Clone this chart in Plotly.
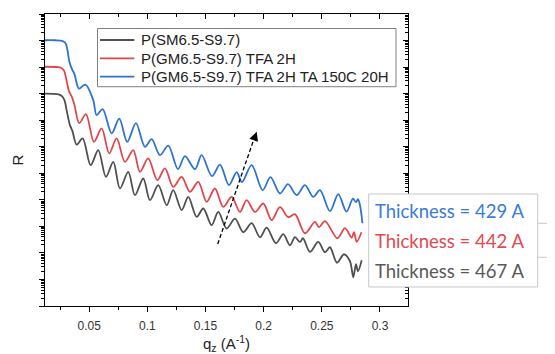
import numpy as np
import plotly.graph_objects as go

# ---------------- data ----------------
series_names = ["P(SM6.5-S9.7)", "P(GM6.5-S9.7) TFA 2H", "P(GM6.5-S9.7) TFA 2H TA 150C 20H"]
series_colors = ["#505050", "#e0474c", "#2f72d0"]

# P(SM6.5-S9.7)  (dark grey)
q_sm = [0.01152, 0.02373, 0.02657, 0.02872, 0.03087, 0.03345, 0.03560, 0.03921, 0.04437, 0.05125,
        0.05778, 0.06440, 0.07068, 0.07644, 0.08358, 0.08934, 0.09648, 0.10224, 0.10937, 0.11660,
        0.12227, 0.12949, 0.13517, 0.14239, 0.14807, 0.15529, 0.16096, 0.16819, 0.17532, 0.18246,
        0.18968, 0.19682, 0.20258, 0.21058, 0.21686, 0.22262, 0.22691, 0.23121, 0.23379, 0.23981,
        0.24695, 0.25271, 0.25701, 0.26303, 0.26905, 0.27421, 0.27705, 0.27937, 0.28109, 0.28427]
log10R_sm = [8.001, 7.971, 7.907, 7.756, 7.315, 6.814, 6.588, 6.078, 6.312, 5.305,
             5.871, 4.864, 5.430, 4.427, 5.053, 4.174, 4.804, 3.986, 4.551, 3.797,
             4.363, 3.609, 4.110, 3.356, 3.673, 3.043, 3.545, 2.919, 3.288, 2.779,
             3.118, 2.591, 2.949, 2.364, 2.704, 2.289, 2.591, 2.413, 2.553, 2.036,
             2.413, 2.025, 2.213, 1.629, 1.950, 1.686, 1.082, 1.572, 1.308, 1.723]

# P(GM6.5-S9.7) TFA 2H  (red)
q_tfa = [0.01152, 0.02313, 0.02571, 0.02829, 0.03044, 0.03259, 0.03517, 0.03732, 0.04144, 0.04721,
         0.05408, 0.06071, 0.06724, 0.07360, 0.08074, 0.08788, 0.09364, 0.10077, 0.10851, 0.11513,
         0.12227, 0.12949, 0.13663, 0.14377, 0.15099, 0.15813, 0.16526, 0.17248, 0.17962, 0.18539,
         0.19252, 0.19966, 0.20688, 0.21402, 0.22115, 0.22691, 0.23551, 0.24411, 0.24755, 0.25271,
         0.26346, 0.26991, 0.27567, 0.27765, 0.27997, 0.28410]
log10R_tfa = [9.012, 9.001, 8.974, 8.869, 8.511, 8.096, 7.869, 7.568, 6.889, 7.228,
              6.184, 6.689, 5.747, 6.312, 5.430, 5.871, 5.053, 5.558, 4.740, 5.181,
              4.487, 4.864, 4.299, 4.676, 3.922, 4.427, 3.733, 4.110, 3.545, 3.986,
              3.545, 3.861, 3.232, 3.722, 3.345, 3.458, 2.741, 3.167, 2.968, 3.194,
              2.553, 2.930, 2.572, 2.779, 2.421, 2.779]

# P(GM6.5-S9.7) TFA 2H TA 150C 20H  (blue)
q_ta = [0.01152, 0.02055, 0.02657, 0.02958, 0.03130, 0.03302, 0.03517, 0.03732, 0.04119, 0.04678,
        0.05348, 0.05641, 0.06157, 0.06930, 0.07584, 0.08272, 0.09020, 0.09794, 0.10370, 0.11084,
        0.11797, 0.12631, 0.13233, 0.14093, 0.14669, 0.15555, 0.16243, 0.17016, 0.17678, 0.18134,
        0.18968, 0.19914, 0.20585, 0.21402, 0.22089, 0.22838, 0.23551, 0.24265, 0.24841, 0.25701,
        0.26415, 0.27120, 0.27679, 0.27937, 0.28109, 0.28281, 0.28495]
log10R_ta = [10.011, 10.011, 9.989, 9.906, 9.642, 9.189, 8.925, 8.737, 8.190, 8.341,
             7.756, 7.191, 7.417, 6.501, 7.059, 6.184, 6.889, 5.995, 6.286, 5.683,
             6.041, 5.155, 5.645, 5.155, 5.683, 4.891, 5.324, 4.551, 5.041, 4.664,
             5.305, 4.363, 4.853, 4.238, 4.589, 4.174, 4.551, 4.110, 4.363, 3.571,
             4.212, 3.552, 4.042, 3.910, 4.023, 3.797, 3.118]

thickness_labels = ["Thickness = 429 A", "Thickness = 442 A", "Thickness = 467 A"]
thickness_colors = ["#3a7bd8", "#e5484d", "#595959"]

x_tickvals = [0.05, 0.1, 0.15, 0.2, 0.25, 0.3]
x_ticktext = ["0.05", "0.1", "0.15", "0.2", "0.25", "0.3"]
x_range = [0.0120, 0.3241]
y_decades = list(range(0, 12))          # 1e0 ... 1e11
y_range_log = [0, 11]

# ---------------- figure ----------------
fig = go.Figure()
for q, lr, name, col in [(q_sm, log10R_sm, series_names[0], series_colors[0]),
                         (q_tfa, log10R_tfa, series_names[1], series_colors[1]),
                         (q_ta, log10R_ta, series_names[2], series_colors[2])]:
    fig.add_trace(go.Scatter(x=q, y=10 ** np.array(lr), mode="lines", name=name,
                             line=dict(color=col, width=1.8, shape="spline", smoothing=0.9),
                             hoverinfo="skip", showlegend=False))

# empty trace to hold the mirrored (top / right) axes
fig.add_trace(go.Scatter(x=[], y=[], xaxis="x2", yaxis="y2", showlegend=False, hoverinfo="skip"))

y_major = [10.0 ** d for d in y_decades]
y_minor = [k * 10.0 ** d for d in y_decades[:-1] for k in range(2, 10)]
axis_font = dict(family="Arial, Liberation Sans, sans-serif", size=12, color="#333333")
title_font = dict(family="Arial, Liberation Sans, sans-serif", size=15, color="#222222")

# The page body has an 8px default margin, so the figure is 8px smaller than the window
fig.update_layout(
    width=547, height=346,
    margin=dict(l=37, r=147, t=6, b=48, autoexpand=False),
    paper_bgcolor="white", plot_bgcolor="white",
    showlegend=False,
    xaxis=dict(range=x_range, showgrid=False, zeroline=False, automargin=False,
               showline=True, linecolor="black", linewidth=1.3,
               ticks="outside", ticklen=5, tickwidth=1.2, tickcolor="black",
               tickmode="array", tickvals=x_tickvals, ticktext=x_ticktext,
               tickfont=axis_font, ticklabelstandoff=3,
               minor=dict(ticks="outside", ticklen=3, tickwidth=1.2, tickcolor="black",
                          tickmode="linear", tick0=0.025, dtick=0.05),
               title=dict(text="q<sub>z</sub> (A<sup>-1</sup>)", standoff=10, font=title_font)),
    yaxis=dict(type="log", range=y_range_log, showgrid=False, zeroline=False, automargin=False,
               showline=True, linecolor="black", linewidth=1.3,
               ticks="outside", ticklen=5, tickwidth=1.2, tickcolor="black",
               tickmode="array", tickvals=y_major, showticklabels=False,
               minor=dict(ticks="outside", ticklen=2.5, tickwidth=1, tickcolor="black",
                          tickmode="array", tickvals=y_minor),
               title=dict(text="R", standoff=11, font=title_font)),
    xaxis2=dict(overlaying="x", side="top", anchor="y", range=x_range, showgrid=False, zeroline=False,
                automargin=False,
                showline=True, linecolor="black", linewidth=1.3,
                ticks="inside", ticklen=5, tickwidth=1.2, tickcolor="black",
                tickmode="array", tickvals=x_tickvals, showticklabels=False,
                minor=dict(ticks="inside", ticklen=3, tickwidth=1.2, tickcolor="black",
                           tickmode="linear", tick0=0.025, dtick=0.05)),
    yaxis2=dict(overlaying="y", side="right", anchor="x", type="log", range=y_range_log,
                showgrid=False, zeroline=False, automargin=False,
                showline=True, linecolor="black", linewidth=1.3,
                ticks="inside", ticklen=5, tickwidth=1.2, tickcolor="black",
                tickmode="array", tickvals=y_major, showticklabels=False,
                minor=dict(ticks="inside", ticklen=2.5, tickwidth=1, tickcolor="black",
                           tickmode="array", tickvals=y_minor)),
)

# legend (box, line samples, labels)
fig.add_shape(type="rect", xref="paper", yref="paper", x0=0.1446, x1=0.9669, y0=0.7510, y1=0.9503,
              line=dict(color="#808080", width=1), fillcolor="white", layer="above")
legend_rows = [0.9110, 0.8483, 0.7853]
for name, col, yy in zip(series_names, series_colors, legend_rows):
    fig.add_shape(type="line", xref="paper", yref="paper", x0=0.1515, x1=0.2460, y0=yy, y1=yy,
                  line=dict(color=col, width=1.8), layer="above")
    fig.add_annotation(xref="paper", yref="paper", x=0.2598, y=yy, text=name, showarrow=False,
                       xanchor="left", yanchor="middle",
                       font=dict(family="Arial, Liberation Sans, sans-serif", size=15, color="#222222"))

# dashed arrow
fig.add_shape(type="line", xref="paper", yref="paper", x0=0.4758, y0=0.2123, x1=0.5795, y1=0.5860,
              line=dict(color="black", width=1.3, dash="4px,2.5px"), layer="above")
fig.add_annotation(xref="paper", yref="paper", x=0.5832, y=0.5969, text="", showarrow=True,
                   ax=-3.3, ay=9.4, arrowhead=2, arrowsize=1.3, arrowwidth=1.4, arrowcolor="black")

# thickness box
fig.add_shape(type="line", xref="paper", yref="paper", x0=1.3573, x1=1.43, y0=0.2832, y1=0.2832,
              line=dict(color="#c8c8c8", width=1), layer="above")
fig.add_shape(type="line", xref="paper", yref="paper", x0=1.3573, x1=1.43, y0=0.1668, y1=0.1668,
              line=dict(color="#c8c8c8", width=1), layer="above")
fig.add_shape(type="rect", xref="paper", yref="paper", x0=0.8917, x1=1.3573, y0=0.0651, y1=0.3836,
              line=dict(color="#c8c8c8", width=1), fillcolor="white", layer="above")
for txt, col, yy in zip(thickness_labels, thickness_colors, [0.3264, 0.2236, 0.1209]):
    fig.add_annotation(xref="paper", yref="paper", x=1.1157, y=yy, text=txt, showarrow=False,
                       xanchor="center", yanchor="middle",
                       font=dict(family="Lato, sans-serif", size=18.5, color=col))

fig.write_html("out.html")
